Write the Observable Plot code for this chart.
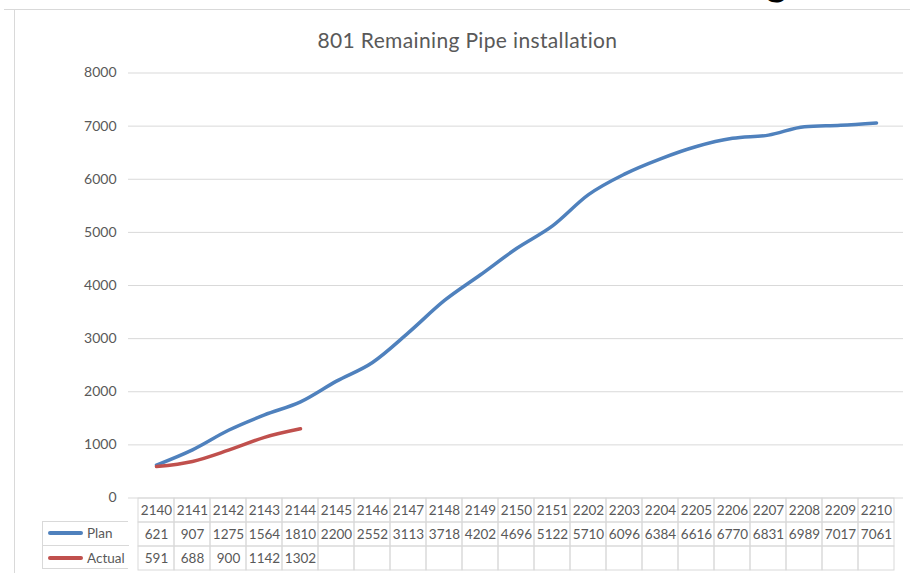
<!DOCTYPE html>
<html>
<head>
<meta charset="utf-8">
<script src="https://cdn.jsdelivr.net/npm/d3@7"></script>
<script src="https://cdn.jsdelivr.net/npm/@observablehq/plot@0.6"></script>
<style>
  html, body { margin: 0; padding: 0; background: #fff; }
  #wrap { position: relative; width: 910px; height: 573px; overflow: hidden; background: #fff; font-family: Lato, "Open Sans", sans-serif; }
  .abs { position: absolute; }
  #title { left: 467.5px; top: 28.5px; transform: translateX(-50%); font-size: 21px; letter-spacing: 0.35px; line-height: 1; color: #595959; white-space: nowrap; }
  #frag { left: 766px; top: -40.5px; font-size: 40px; line-height: 1; font-weight: bold; color: #000; }
  #legend { left: 42px; top: 521px; width: 86px; height: 48px; border: 1px solid #d9d9d9; border-right: none; box-sizing: border-box; color: #595959; font-size: 13.5px; }
  .lrow { position: absolute; left: 0; width: 86px; height: 24px; }
  .sw { position: absolute; left: 5px; top: 9.5px; width: 35px; height: 4px; border-radius: 2px; }
  .lt { position: absolute; left: 44px; top: 4px; line-height: 16px; }
</style>
</head>
<body>
<div id="wrap">
  <div class="abs" id="frag">g</div>
  <div class="abs" style="left:4px;top:9px;width:906px;height:1px;background:#d9d9d9"></div>
  <div class="abs" style="left:14px;top:9px;width:1px;height:564px;background:#d9d9d9"></div>
  <div class="abs" id="title">801 Remaining Pipe installation</div>
  <div class="abs" id="chart" style="left:0;top:0"></div>
  <div class="abs" id="table" style="left:0;top:497px"></div>
  <div class="abs" id="legend"></div>
</div>
<script>
const categories = ["2140","2141","2142","2143","2144","2145","2146","2147","2148","2149","2150","2151","2202","2203","2204","2205","2206","2207","2208","2209","2210"];
const plan = [621,907,1275,1564,1810,2200,2552,3113,3718,4202,4696,5122,5710,6096,6384,6616,6770,6831,6989,7017,7061];
const actual = [591,688,900,1142,1302];
const seriesNames = ["Plan","Actual"];
const seriesColors = ["#4F81BD","#C0504D"];
const yTicks = [0,1000,2000,3000,4000,5000,6000,7000,8000];

const planData = plan.map((v, i) => ({cat: categories[i], value: v}));
const actualData = actual.map((v, i) => ({cat: categories[i], value: v}));

const chart = Plot.plot({
  width: 910, height: 510,
  marginTop: 72.5, marginBottom: 12.5, marginLeft: 128, marginRight: 7,
  style: {fontFamily: "Lato, 'Open Sans', sans-serif", fontSize: "14px", color: "#595959", background: "transparent", overflow: "visible"},
  x: {type: "point", domain: categories, padding: 0.5, axis: null},
  y: {domain: [0, 8000], ticks: yTicks, tickFormat: d3.format("d"), tickSize: 0, tickPadding: 12, label: null},
  marks: [
    Plot.ruleY(yTicks, {stroke: "#d9d9d9", strokeWidth: 1}),
    Plot.line(planData, {x: "cat", y: "value", stroke: seriesColors[0], strokeWidth: 3.5, curve: "monotone-x", strokeLinecap: "round"}),
    Plot.line(actualData, {x: "cat", y: "value", stroke: seriesColors[1], strokeWidth: 3.5, curve: "monotone-x", strokeLinecap: "round"})
  ]
});
document.getElementById("chart").appendChild(chart);

const rows = ["cat", ...seriesNames];
const cells = [];
categories.forEach((c, i) => {
  cells.push({cat: c, row: "cat", label: c});
  cells.push({cat: c, row: "Plan", label: String(plan[i])});
  cells.push({cat: c, row: "Actual", label: i < actual.length ? String(actual[i]) : ""});
});

const table = Plot.plot({
  width: 910, height: 76,
  marginTop: 0.5, marginBottom: 3.5, marginLeft: 128, marginRight: 7,
  style: {fontFamily: "Lato, 'Open Sans', sans-serif", fontSize: "13.5px", color: "#595959", background: "transparent", overflow: "visible"},
  x: {type: "band", domain: categories, padding: 0, axis: null},
  y: {type: "band", domain: rows, padding: 0, axis: null},
  marks: [
    Plot.cell(cells, {x: "cat", y: "row", fill: "none", stroke: "#d9d9d9", strokeWidth: 1, inset: 0}),
    Plot.text(cells, {x: "cat", y: "row", text: "label", fill: "#595959"})
  ]
});
document.getElementById("table").appendChild(table);

const legend = document.getElementById("legend");
seriesNames.forEach((name, i) => {
  const row = document.createElement("div");
  row.className = "lrow";
  row.style.top = (i * 24 - 1) + "px";
  if (i > 0) row.style.borderTop = "1px solid #d9d9d9";
  const sw = document.createElement("div");
  sw.className = "sw";
  sw.style.background = seriesColors[i];
  const t = document.createElement("div");
  t.className = "lt";
  t.textContent = name;
  row.appendChild(sw); row.appendChild(t);
  legend.appendChild(row);
});
</script>
</body>
</html>
